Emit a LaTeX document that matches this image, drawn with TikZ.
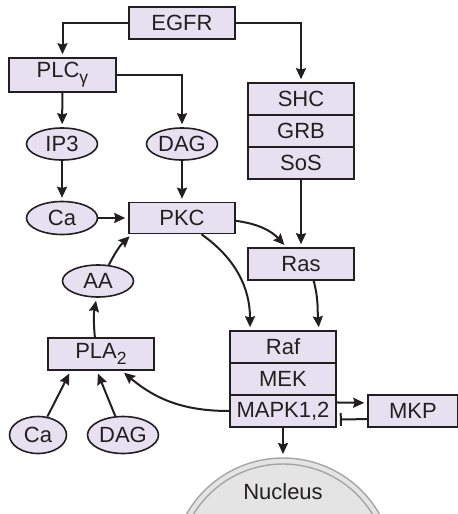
\documentclass[tikz,border=0pt]{standalone}
\usepackage{fontspec}
\setmainfont{Liberation Sans}
\usetikzlibrary{arrows.meta,shapes.geometric}
\definecolor{protfill}{RGB}{230,224,240}
\definecolor{inkline}{RGB}{35,31,32}
\definecolor{nucfill}{RGB}{228,228,228}
\definecolor{nucline}{RGB}{165,165,165}
\newcommand{\lowsub}[1]{\raisebox{-0.5ex}{\fontsize{8.8}{10}\selectfont#1}}
\begin{document}
\begin{tikzpicture}[x=0.5pt,y=-0.5pt,
  font=\fontsize{11}{13}\selectfont,
  every node/.style={text=inkline},
  prot/.style={draw=inkline,fill=protfill,line width=0.8pt,minimum width=53pt,minimum height=16pt,inner sep=0pt},
  mol/.style={ellipse,draw=inkline,fill=protfill,line width=0.8pt,minimum width=35.5pt,minimum height=16pt,inner sep=0pt},
  act/.style={-{Stealth[length=5.5pt,width=5pt,inset=0.7pt]},line width=1pt,draw=inkline,shorten >=1.5pt},
  inh/.style={-{Bar[width=6.5pt]},line width=1pt,draw=inkline,shorten >=1.5pt}]
\useasboundingbox (0,0) rectangle (457,514);
\begin{scope}
\clip (0,0) rectangle (457,514);
\fill[nucfill] (283,569) circle[radius=55.5pt];
\draw[nucline,line width=0.7pt] (283,569) circle[radius=55.5pt] (283,569) circle[radius=52.5pt];
\end{scope}
\node[prot] (egfr) at (182,23) {EGFR};
\node[prot,minimum width=53.5pt,minimum height=17pt] (plc) at (62.5,75) {PLC\lowsub{γ}};
\node[prot] (shc) at (301,99) {SHC};
\node[prot] (grb) at (301,131) {GRB};
\node[prot] (sos) at (301,163) {SoS};
\node[mol] (ip3) at (62,144) {IP3};
\node[mol] (dag) at (182,144) {DAG};
\node[mol,minimum height=16.5pt] (ca) at (62,218) {Ca};
\node[prot,minimum height=15.5pt] (pkc) at (182,218) {PKC};
\node[prot] (ras) at (301,264) {Ras};
\node[mol] (aa) at (98,281) {AA};
\node[prot] (pla) at (101,354) {PLA\lowsub{2}};
\node[prot] (raf) at (283,347) {Raf};
\node[prot] (mek) at (283,379) {MEK};
\node[prot] (mapk) at (283,411) {MAPK1,2};
\node[prot,minimum width=45pt] (mkp) at (413,411) {MKP};
\node[mol,minimum width=28.5pt,minimum height=18.5pt] (ca2) at (38,435) {Ca};
\node[mol,minimum height=18.5pt] (dag2) at (123,435) {DAG};
\node (nuc) at (283,492) {Nucleus};
\coordinate (nuctop) at (283,457);
\draw[act] (egfr) -| (plc);
\draw[act] (egfr) -| (shc);
\draw[act] (plc) -- (ip3);
\draw[act] (plc) -| (dag);
\draw[act] (ip3) -- (ca);
\draw[act] (dag) -- (pkc);
\draw[act] (ca) -- (pkc);
\draw[act] (sos) -- (ras);
\draw[act] (pkc.-3) to[bend left=20] (ras.131);
\draw[act] (pkc.-40) to[out=-35,in=90] (raf.153);
\draw[act] (ras.-53) to[out=-75,in=95] (raf.25);
\draw[act] (aa.56) to[bend left=10] (pkc.198);
\draw[act] (pla.110) to[bend left=8] (aa.-95);
\draw[act] (ca2) -- (pla.209);
\draw[act] (dag2) -- (pla.256);
\draw[act] (mapk.west) to[out=180,in=-40] (pla.-39);
\draw[act] (mapk.9) -- (mkp.170);
\draw[inh] (mkp.190) -- (mapk.-9);
\draw[act] (mapk) -- (nuctop);
\end{tikzpicture}
\end{document}
